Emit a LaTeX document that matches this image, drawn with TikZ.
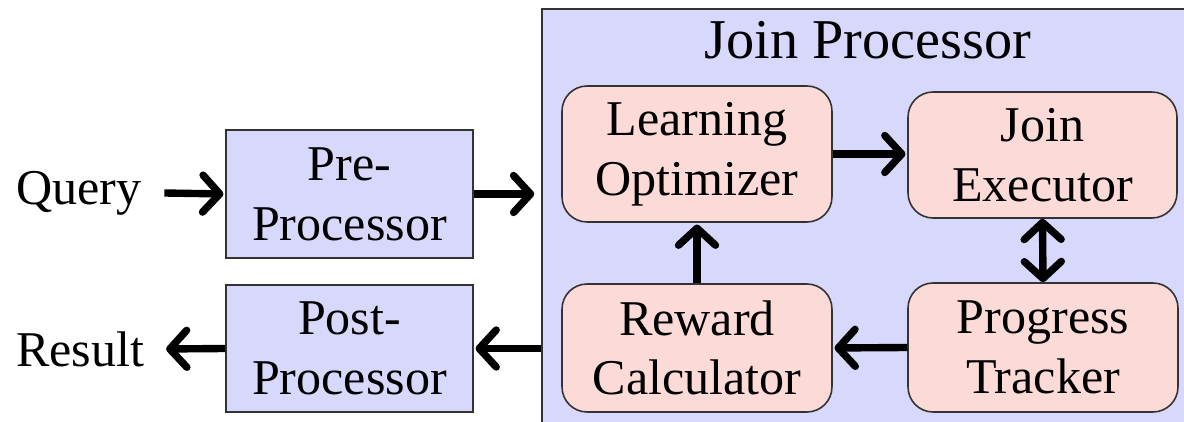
\documentclass[tikz,border=0pt]{standalone}
\usepackage{fontspec}
\setmainfont{Liberation Serif}
\usetikzlibrary{arrows.meta}
\definecolor{boxblue}{RGB}{216,216,252}
\definecolor{boxpink}{RGB}{252,218,216}
\tikzset{
  plainbox/.style={draw=black!80, line width=0.9pt, fill=boxblue, align=center, inner sep=0pt},
  roundbox/.style={draw=black!80, line width=0.9pt, fill=boxpink, rounded corners=0.5cm, align=center, inner sep=0pt},
  flow/.style={line width=4.2pt, -{Straight Barb[length=3.4mm,width=7.4mm,line cap=round,round]}, shorten >=1pt},
  biflow/.style={line width=4.2pt, {Straight Barb[length=3.4mm,width=7.4mm,line cap=round,round]}-{Straight Barb[length=3.4mm,width=7.4mm,line cap=round,round]}},
  lbl/.style={inner sep=0pt}
}
\begin{document}
\begin{tikzpicture}[x=0.02cm,y=-0.02cm,font=\fontsize{28.5}{34}\selectfont]
\useasboundingbox (0,0) rectangle (1184,422);
\clip (0,0) rectangle (1184,422);
% big container
\node[plainbox, anchor=north west, minimum width=14cm, minimum height=9cm] (big) at (541,8) {};
\node[lbl, font=\fontsize{32}{38}\selectfont] (title) at (868,40) {Join Processor};
% outer boxes
\node[plainbox, minimum width=4.94cm, minimum height=2.56cm] (pre) at (349.5,194) {Pre-\\Processor};
\node[plainbox, minimum width=4.94cm, minimum height=2.54cm] (post) at (349.5,348.5) {Post-\\Processor};
% inner boxes
\node[roundbox, minimum width=5.4cm, minimum height=2.72cm] (learn) at (697,154) {Learning\\Optimizer};
\node[roundbox, minimum width=5.38cm, minimum height=2.52cm] (exec) at (1042.5,155) {Join\\Executor};
\node[roundbox, minimum width=5.4cm, minimum height=2.56cm] (reward) at (697,348) {Reward\\Calculator};
\node[roundbox, minimum width=5.4cm, minimum height=2.58cm] (track) at (1043,347.5) {Progress\\Tracker};
% labels
\node[lbl] (query) at (79,193) {Query};
\node[lbl] (result) at (80,349) {Result};
% connectors
\draw[flow] ([xshift=0.45cm]query.east) -- (pre.west);
\draw[flow] (pre.east) -- ([xshift=-0.1cm]pre.east -| big.west);
\draw[flow] (big.west |- post.east) -- (post.east);
\draw[flow] (post.west) -- ([xshift=0.4cm]result.east);
\draw[flow] (learn.east) -- (learn.east -| exec.west);
\draw[flow] (reward.north) -- (learn.south);
\draw[biflow] (exec.south) -- (track.north);
\draw[flow] (track.west) -- (reward.east);
\end{tikzpicture}
\end{document}
